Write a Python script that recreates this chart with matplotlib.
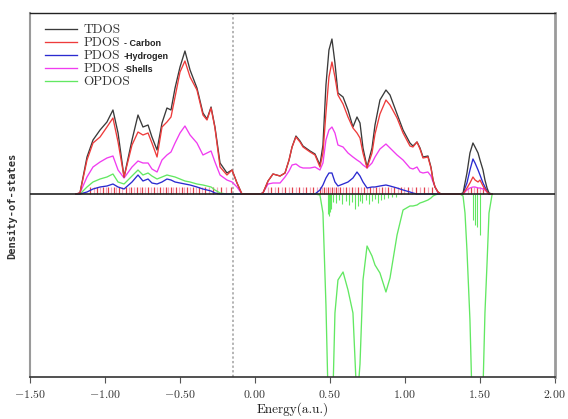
import matplotlib
matplotlib.use("Agg")
import matplotlib.pyplot as plt
from matplotlib.font_manager import FontProperties

plt.rcParams['mathtext.fontset'] = 'cm'
plt.rcParams['axes.unicode_minus'] = True

# ---------------- data ----------------
# occupied block
E1 = [-1.191, -1.165, -1.118, -1.078, -1.031, -0.985, -0.945, -0.911, -0.871, -0.818,
      -0.778, -0.745, -0.711, -0.685, -0.651, -0.618, -0.585, -0.558, -0.531, -0.498,
      -0.465, -0.431, -0.385, -0.345, -0.318, -0.291, -0.265, -0.231, -0.185, -0.151,
      -0.118, -0.085]
T1 = [0, 0.1, 3.7, 5.4, 6.4, 7.2, 8.4, 6.1, 1.7, 5.4,
      7.9, 6.7, 6.9, 5.7, 4.4, 7.1, 8.6, 8.4, 10.6, 12.7,
      14.3, 12.4, 10.6, 8.1, 7.5, 8.7, 6.7, 3.1, 2.1, 2.4,
      1.1, 0]
C1 = [0, 0.1, 3.4, 5.1, 5.7, 6.7, 7.6, 5.2, 1.7, 4.9,
      6.2, 5.9, 6.1, 5.1, 3.7, 6.7, 7.2, 7.7, 9.7, 12.2,
      13.3, 11.7, 10.4, 7.9, 7.4, 8.6, 6.6, 2.7, 1.9, 2.4,
      1.1, 0]
H1 = [0, 0, 0.2, 0.5, 0.7, 0.8, 1.0, 0.7, 0.5, 1.2,
      1.9, 1.3, 1.5, 1.1, 1.0, 1.2, 1.5, 1.4, 1.2, 1.1,
      1.0, 0.9, 0.7, 0.5, 0.4, 0.3, 0.1, 0, 0, 0,
      0, 0]
S1 = [0, 0.1, 1.7, 2.7, 3.2, 3.6, 3.8, 2.4, 1.6, 2.7,
      3.3, 3.1, 3.1, 2.5, 2.2, 3.4, 3.9, 4.2, 5.1, 6.1,
      6.8, 5.9, 5.1, 3.9, 4.1, 4.3, 3.2, 1.9, 1.4, 1.2,
      0.7, 0]
O1 = [0, 0, 0.7, 1.2, 1.5, 1.7, 2.0, 1.2, 1.0, 1.8,
      2.4, 1.9, 2.1, 1.8, 1.5, 1.7, 1.9, 1.8, 1.7, 1.5,
      1.3, 1.2, 1.0, 0.9, 0.8, 0.7, 0.4, 0.1, 0, 0,
      0, 0]

# virtual block
E2 = [0.035, 0.055, 0.089, 0.122, 0.169, 0.202, 0.229, 0.249, 0.275, 0.302,
      0.322, 0.369, 0.402, 0.435, 0.455, 0.475, 0.495, 0.515, 0.535, 0.555,
      0.589, 0.622, 0.655, 0.682, 0.702, 0.722, 0.749, 0.782, 0.802, 0.835,
      0.875, 0.902, 0.949, 0.989, 1.035, 1.055, 1.082, 1.102, 1.122, 1.155,
      1.175, 1.189, 1.202, 1.222, 1.242]
T2 = [0, 0.1, 1.3, 2.0, 1.8, 2.1, 3.4, 4.7, 5.8, 5.3,
      4.8, 4.3, 4.0, 2.9, 4.9, 10.9, 14.4, 15.5, 13.1, 10.1,
      9.7, 8.4, 6.7, 7.7, 7.1, 4.6, 2.7, 4.6, 6.9, 9.4,
      10.4, 9.9, 8.0, 6.4, 5.1, 4.8, 5.2, 4.6, 3.7, 3.8,
      2.7, 1.4, 0.7, 0.2, 0]
C2 = [0, 0.1, 1.3, 2.0, 1.8, 2.1, 3.4, 4.7, 5.7, 5.2,
      4.7, 4.2, 3.9, 2.7, 4.1, 8.1, 11.7, 13.2, 11.7, 9.9,
      9.0, 7.7, 6.6, 6.1, 5.6, 4.1, 2.6, 4.1, 6.0, 8.0,
      9.4, 8.9, 7.6, 6.1, 4.8, 4.7, 5.2, 4.5, 3.6, 3.7,
      2.6, 1.4, 0.7, 0.2, 0]
H2 = [0, 0, 0, 0, 0, 0, 0, 0, 0, 0,
      0, 0, 0, 0.4, 0.9, 1.6, 2.1, 2.1, 1.2, 0.8,
      1.0, 1.2, 1.6, 2.2, 1.8, 1.2, 0.6, 0.7, 0.7, 0.8,
      0.9, 0.8, 0.6, 0.4, 0.2, 0.1, 0, 0, 0, 0,
      0, 0, 0, 0, 0]
S2 = [0, 0.1, 1.0, 1.1, 1.1, 1.7, 2.3, 2.9, 3.0, 2.7,
      2.6, 2.6, 2.7, 2.4, 3.1, 5.4, 6.4, 6.7, 6.1, 4.9,
      4.7, 4.1, 3.7, 3.4, 3.2, 2.9, 2.6, 3.1, 3.7, 4.5,
      5.0, 4.6, 3.9, 3.4, 2.6, 2.5, 2.7, 2.2, 2.1, 2.2,
      1.8, 1.2, 0.7, 0.1, 0]
O2 = [0, 0, 0, 0, 0, 0, 0, 0, 0, 0,
      0, 0, 0, -0.1, -1.9, -11.1, -24, -24, -11.9, -8.6,
      -7.8, -9.6, -11.9, -21, -17, -8.6, -5.2, -6.2, -7.1, -7.9,
      -9.8, -8.4, -4.1, -1.6, -1.2, -1.2, -1.1, -0.9, -0.8, -0.6,
      -0.4, -0.2, -0.1, 0, 0]

# high-energy block
E3 = [1.369, 1.389, 1.402, 1.415, 1.435, 1.455, 1.469, 1.489, 1.502, 1.522,
      1.535, 1.549, 1.562, 1.582]
T3 = [0, 0.1, 1.1, 2.1, 4.1, 5.1, 4.7, 4.1, 3.4, 2.4, 1.4, 0.6, 0.1, 0]
H3 = [0, 0, 0.6, 1.1, 2.4, 3.5, 3.1, 2.4, 1.9, 1.1, 0.7, 0.3, 0, 0]
C3 = [0, 0, 0.3, 0.6, 1.1, 1.7, 1.4, 1.2, 1.4, 0.8, 0.5, 0.2, 0, 0]
S3 = [0, 0, 0.2, 0.4, 0.6, 0.7, 0.7, 0.6, 0.6, 0.5, 0.4, 0.2, 0, 0]
O3 = [0, -0.2, -1.9, -5.6, -12.6, -24, -26, -26, -26, -19.5, -11.9, -6.9, -1.9, -0.1]

# eigenvalue sticks
stick_red = [-1.098, -1.051, -1.011, -0.978, -0.938, -0.905, -0.858, -0.825, -0.785, -0.751,
             -0.711, -0.671, -0.631, -0.591, -0.558, -0.525, -0.485, -0.451, -0.411, -0.371,
             -0.331, -0.278, -0.225, -0.158,
             0.109, 0.155, 0.202, 0.249, 0.295, 0.342, 0.389,
             0.435, 0.462, 0.489, 0.515, 0.542, 0.569, 0.609,
             0.649, 0.689, 0.729, 0.769, 0.809, 0.849, 0.889, 0.929, 0.975, 1.022,
             1.075, 1.129, 1.182, 1.442, 1.482, 1.522]
stick_pink = [-1.071, -1.031, -0.991, -0.958, -0.925, -0.885, -0.838, -0.805, -0.765, -0.731,
              -0.691, -0.651, -0.611, -0.578, -0.545, -0.505, -0.471, -0.431, -0.391, -0.351,
              -0.305, -0.251, -0.191,
              0.089, 0.135, 0.182, 0.229, 0.275, 0.322, 0.369, 0.415,
              0.449, 0.475, 0.502, 0.529, 0.555, 0.589, 0.629,
              0.669, 0.709, 0.749, 0.789, 0.829, 0.869, 0.909, 0.955, 0.995, 1.049,
              1.102, 1.155, 1.422, 1.462, 1.502]
stick_height = 0.65
green_stick_E = [0.489, 0.495, 0.502, 0.509, 0.522, 0.542, 0.562, 0.582, 0.609, 0.629,
                 0.649, 0.669, 0.689, 0.702, 0.715, 0.742, 0.762, 0.782, 0.802, 0.822,
                 0.842, 0.862, 0.889, 0.915, 0.942, 1.455, 1.469, 1.482, 1.502]
green_stick_h = [-2.0, -2.2, -1.8, -1.5, -0.8, -0.9, -0.6, -1.0, -0.7, -1.1,
                 -0.8, -1.5, -1.2, -0.7, -0.9, -0.6, -1.0, -0.7, -0.5, -0.9,
                 -0.6, -0.5, -0.4, -0.3, -0.3, -2.6, -3.1, -3.3, -4.1]

homo = -0.145
xticks = [-1.5, -1.0, -0.5, 0.0, 0.5, 1.0, 1.5, 2.0]
xtick_labels = ['-1.50', '-1.00', '-0.50', '0.00', '0.50', '1.00', '1.50', '2.00']
series_names = ['TDOS', 'PDOS', 'PDOS', 'PDOS', 'OPDOS']
series_suffix = ['', '- Carbon', '-Hydrogen', '-Shells', '']

# ---------------- figure ----------------
E = E1 + E2 + E3
TD = T1 + T2 + T3
CA = C1 + C2 + C3
HY = H1 + H2 + H3
SH = S1 + S2 + S3
OP = O1 + O2 + O3

W, H = 568, 419
fig = plt.figure(figsize=(W / 100, H / 100), dpi=100)
ax = fig.add_axes([29.7 / W, 42 / H, 525 / W, 364 / H])
ax.set_xlim(-1.5, 2.0)
ax.set_ylim(-18.3, 18.1)

c_t, c_c, c_h, c_s, c_o = '#3a3a3a', '#ee3b3b', '#2a2ad0', '#f03cf0', '#62e862'

ax.vlines(stick_pink, 0, stick_height, colors='#f7a3b8', lw=0.9, zorder=1)
ax.vlines(stick_red, 0, stick_height, colors='#e0404a', lw=0.9, zorder=1)
ax.vlines(green_stick_E, 0, green_stick_h, colors=c_o, lw=0.8, zorder=1)

lo, = ax.plot(E, OP, color=c_o, lw=0.95, zorder=2)
ls, = ax.plot(E, SH, color=c_s, lw=0.95, zorder=3)
lh, = ax.plot(E, HY, color=c_h, lw=0.95, zorder=3)
lt, = ax.plot(E, TD, color=c_t, lw=0.95, zorder=4)
lc, = ax.plot(E, CA, color=c_c, lw=0.95, zorder=5)

ax.axhline(0, color='#222222', lw=1.2, zorder=6)
ax.axvline(homo, color='#a0a0a0', lw=1.1, ls=(0, (1.5, 1.5)), zorder=0)

ax.spines['left'].set_color('#9a9a9a'); ax.spines['left'].set_linewidth(1.5)
ax.spines['right'].set_color('#9a9a9a'); ax.spines['right'].set_linewidth(2.0)
ax.spines['top'].set_color('#222222'); ax.spines['top'].set_linewidth(1.0)
ax.spines['bottom'].set_color('#333333'); ax.spines['bottom'].set_linewidth(1.2)

ax.set_yticks([])
ax.set_xticks(xticks)
ax.set_xticklabels(['$' + t + '$' for t in xtick_labels], fontsize=8.5, color='#333333')
ax.tick_params(axis='x', direction='out', length=4, width=0.8, color='#555555', pad=4)
ax.set_xlabel('Energy(a.u.)', fontfamily='cmr10', fontsize=9.5, labelpad=1, color='#222222')

fig.text(12 / W, 1 - 206 / H, 'Density-of-states', rotation=90, ha='center', va='center',
         fontfamily='DejaVu Sans Mono', fontweight='bold', fontsize=7.5, color='#333333')

leg = ax.legend([lt, lc, lh, ls, lo], series_names, loc='upper left',
                bbox_to_anchor=((45 - 29.7) / 525, 1 - (24 - 13) / 364),
                frameon=False, borderpad=0, borderaxespad=0, handlelength=2.4,
                handletextpad=0.5, labelspacing=0.06,
                prop=FontProperties(family='cmr10', size=9.5))
for t in leg.get_texts():
    t.set_color('#333333')

fig.canvas.draw()
r = fig.canvas.get_renderer()
for txt, suf in zip(leg.get_texts(), series_suffix):
    if not suf:
        continue
    bb = txt.get_window_extent(r)
    fig.text((bb.x1 + 4) / W, (bb.y0 + bb.y1) / 2 / H, suf, ha='left', va='center',
             fontfamily='Liberation Sans', fontweight='bold', fontsize=6.5, color='#222222')

fig.savefig('out.png', dpi=100)
